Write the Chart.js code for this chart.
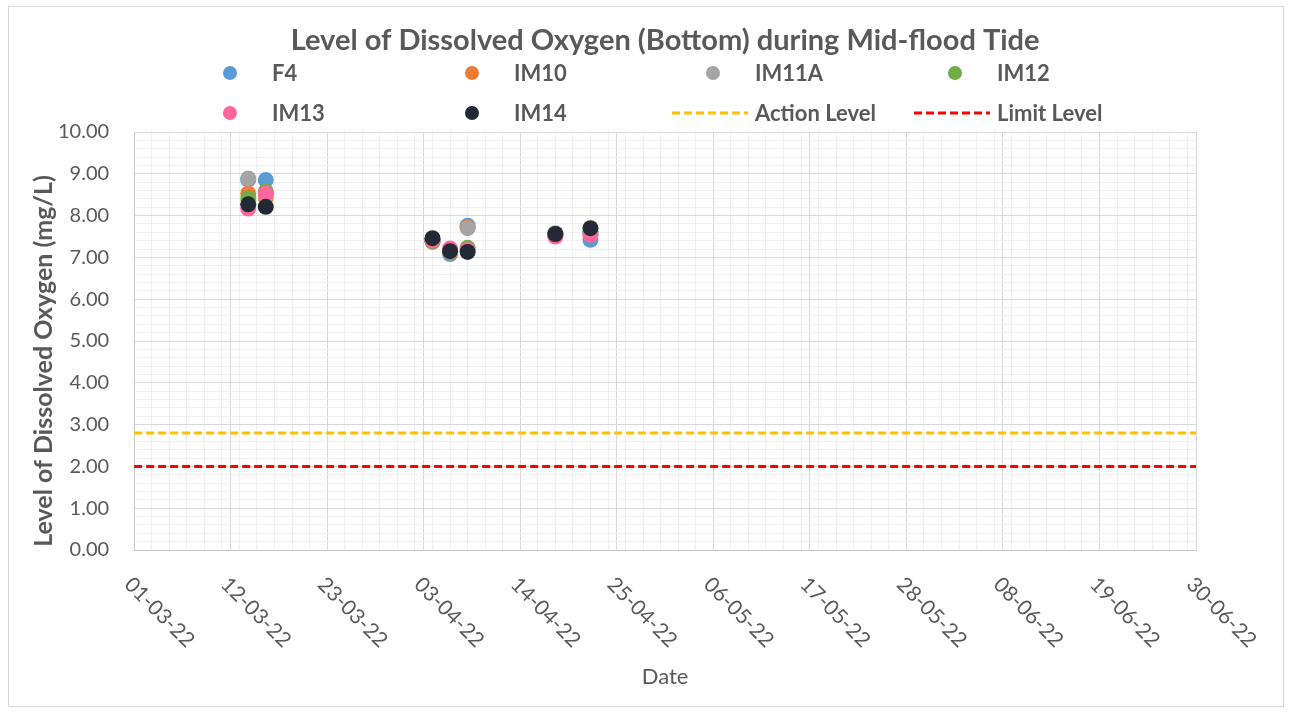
<!DOCTYPE html>
<html lang="en">
<head>
<meta charset="UTF-8">
<title>Level of Dissolved Oxygen (Bottom) during Mid-flood Tide</title>
<script src="https://cdn.jsdelivr.net/npm/chart.js@4.4.0/dist/chart.umd.min.js"></script>
<style>
  html, body { margin: 0; padding: 0; background: #fff; }
  #wrap { position: relative; width: 1291px; height: 713px; }
</style>
</head>
<body>
<div id="wrap"><canvas id="doChart"></canvas></div>
<script>
// sampling dates (dd-mm-yy)
const sampleDates = ['14-03-22', '16-03-22', '04-04-22', '06-04-22', '08-04-22', '18-04-22', '22-04-22'];

// dissolved oxygen (bottom), mg/L
const f4    = [8.86, 8.85, 7.40, 7.08, 7.76, 7.55, 7.42];
const im10  = [8.53, 8.43, 7.37, 7.12, 7.73, 7.52, 7.55];
const im11a = [8.89, 8.50, 7.40, 7.14, 7.70, 7.58, 7.60];
const im12  = [8.41, 8.58, 7.39, 7.15, 7.23, 7.56, 7.62];
const im13  = [8.17, 8.53, 7.41, 7.21, 7.18, 7.50, 7.54];
const im14  = [8.27, 8.21, 7.46, 7.15, 7.13, 7.56, 7.70];

// action / limit levels across the whole period
const levelDates  = ['01-03-22', '30-06-22'];
const actionLevel = [2.8, 2.8];
const limitLevel  = [2.0, 2.0];

// x axis: start, end and label step (days)
const axisStart = '01-03-22';
const axisEnd   = '30-06-22';
const labelStep = 11;

const chartTitle = 'Level of Dissolved Oxygen (Bottom) during Mid-flood Tide';
const yTitle = 'Level of Dissolved Oxygen (mg/L)';
const xTitle = 'Date';

const DAY = 86400000;
function toDate(s) {
  const p = s.split('-');
  return Date.UTC(2000 + (+p[2]), (+p[1]) - 1, +p[0]);
}
const base = toDate(axisStart);
function dayOf(s) { return Math.round((toDate(s) - base) / DAY); }
function fmtDay(n) {
  const d = new Date(base + n * DAY);
  const dd = String(d.getUTCDate()).padStart(2, '0');
  const mm = String(d.getUTCMonth() + 1).padStart(2, '0');
  const yy = String(d.getUTCFullYear()).slice(2);
  return dd + '-' + mm + '-' + yy;
}
function pts(dates, vals) {
  return dates.map((d, i) => ({ x: dayOf(d), y: vals[i] }));
}

const TXT = '#595959';
const FONT = 'Lato, "Open Sans", sans-serif';

const series = [
  { label: 'F4',    data: f4,    color: '#5b9bd5' },
  { label: 'IM10',  data: im10,  color: '#ed7d31' },
  { label: 'IM11A', data: im11a, color: '#a5a5a5' },
  { label: 'IM12',  data: im12,  color: '#70ad47' },
  { label: 'IM13',  data: im13,  color: '#ff6699' },
  { label: 'IM14',  data: im14,  color: '#222a35' }
];

const datasets = series.map((s, i) => ({
  type: 'scatter',
  label: s.label,
  data: pts(sampleDates, s.data),
  backgroundColor: s.color,
  borderColor: s.color,
  pointRadius: 8,
  pointHoverRadius: 8,
  borderWidth: 0,
  order: 20 - i
}));
datasets.push({
  type: 'line', label: 'Action Level', data: pts(levelDates, actionLevel),
  borderColor: '#ffc000', borderWidth: 3, borderDash: [8, 4], pointRadius: 0, fill: false, order: 2
});
datasets.push({
  type: 'line', label: 'Limit Level', data: pts(levelDates, limitLevel),
  borderColor: '#ff0000', borderWidth: 3, borderDash: [8, 4], pointRadius: 0, fill: false, order: 1
});

// outer frame, titles, custom legend, rotated date labels
const extras = {
  id: 'extras',
  beforeDraw(chart) {
    const ctx = chart.ctx;
    ctx.save();
    ctx.fillStyle = '#fff';
    ctx.fillRect(0, 0, chart.width, chart.height);
    ctx.strokeStyle = '#d9d9d9';
    ctx.lineWidth = 1;
    ctx.strokeRect(8.5, 6.5, 1275, 700);
    ctx.restore();
  },
  afterDraw(chart) {
    const ctx = chart.ctx;
    const xs = chart.scales.x;
    const area = chart.chartArea;
    ctx.save();
    ctx.fillStyle = TXT;

    // chart title
    ctx.font = 'bold 29px ' + FONT;
    ctx.textAlign = 'center';
    ctx.textBaseline = 'alphabetic';
    ctx.fillText(chartTitle, (area.left + area.right) / 2, 50);

    // x title
    ctx.font = '22px ' + FONT;
    ctx.fillText(xTitle, (area.left + area.right) / 2, 684);

    // y title
    ctx.save();
    ctx.translate(52, (area.top + area.bottom) / 2 + 20);
    ctx.rotate(-Math.PI / 2);
    ctx.font = 'bold 25px ' + FONT;
    ctx.fillText(yTitle, 0, 0);
    ctx.restore();

    // date labels, rotated 45deg clockwise
    ctx.font = '21px ' + FONT;
    ctx.textAlign = 'left';
    ctx.textBaseline = 'middle';
    const last = dayOf(axisEnd);
    for (let d = 0; d <= last; d += labelStep) {
      const x = xs.getPixelForValue(d);
      ctx.save();
      ctx.translate(x - 6, area.bottom + 31);
      ctx.rotate(Math.PI / 4);
      ctx.fillText(fmtDay(d), 0, 0);
      ctx.restore();
    }

    // legend: 4 columns x 2 rows
    const cols = [230, 472, 713, 955];
    const rows = [73, 113];
    ctx.font = 'bold 22px ' + FONT;
    ctx.textBaseline = 'alphabetic';
    chart.data.datasets.forEach((ds, i) => {
      const cx = cols[i % 4], cy = rows[Math.floor(i / 4)];
      if (ds.type === 'line') {
        ctx.strokeStyle = ds.borderColor;
        ctx.lineWidth = 3;
        ctx.setLineDash([8, 4]);
        ctx.beginPath();
        ctx.moveTo(cx - 41, cy);
        ctx.lineTo(cx + 35, cy);
        ctx.stroke();
        ctx.setLineDash([]);
      } else {
        ctx.fillStyle = ds.backgroundColor;
        ctx.beginPath();
        ctx.arc(cx, cy, 7, 0, Math.PI * 2);
        ctx.fill();
      }
      ctx.fillStyle = TXT;
      ctx.fillText(ds.label, cx + 42, cy + 8);
    });
    ctx.restore();
  }
};

function isInt(v) { return Math.abs(v - Math.round(v)) < 1e-6; }

new Chart(document.getElementById('doChart'), {
  data: { datasets },
  plugins: [extras],
  options: {
    responsive: true,
    maintainAspectRatio: false,
    animation: false,
    layout: { padding: { left: 33, right: 95, top: 132, bottom: 163 } },
    plugins: {
      legend: { display: false },
      tooltip: { enabled: false }
    },
    scales: {
      x: {
        type: 'linear',
        min: dayOf(axisStart),
        max: dayOf(axisEnd),
        ticks: { display: false, stepSize: 1, autoSkip: false },
        grid: {
          drawTicks: false,
          color: (c) => {
            const v = Math.round(c.tick.value);
            if (v % labelStep === 0) return '#d9d9d9';
            if (v % 2 === 0) return '#f0f0f0';
            return 'rgba(0,0,0,0)';
          }
        },
        border: { color: '#c8c8c8' }
      },
      y: {
        min: 0,
        max: 10,
        ticks: {
          stepSize: 0.2,
          autoSkip: false,
          padding: 25,
          color: TXT,
          font: { family: FONT, size: 20 },
          callback: (v) => isInt(v) ? Number(v).toFixed(2) : ''
        },
        grid: {
          drawTicks: false,
          color: (c) => isInt(c.tick.value) ? '#d9d9d9' : '#f0f0f0'
        },
        border: { color: '#c8c8c8' }
      }
    }
  }
});
</script>
</body>
</html>
